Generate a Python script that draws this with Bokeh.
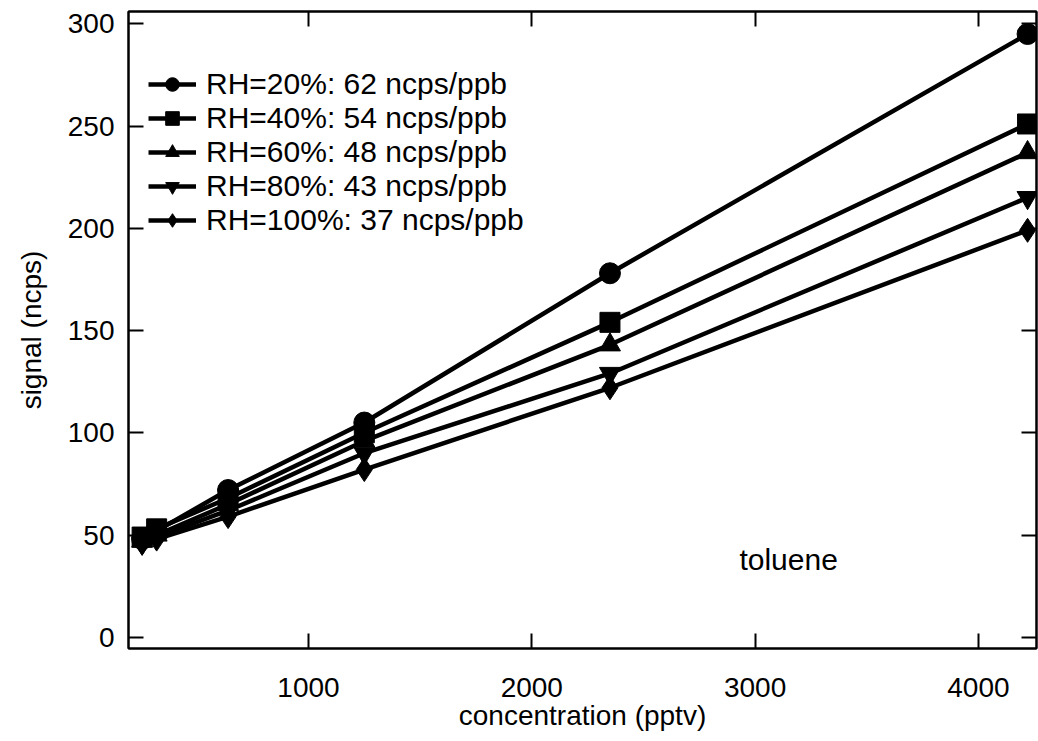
from bokeh.plotting import figure
from bokeh.models import LinearAxis, Range1d, FixedTicker, Legend, LegendItem, Label
from bokeh.embed import file_html
from bokeh.resources import INLINE

# concentration (pptv)
conc = [255, 320, 640, 1250, 2350, 4220]

rh20 = [48, 52, 72, 105, 178, 295]
rh40 = [49, 53, 68, 100, 154, 251]
rh60 = [47, 50, 65, 96, 143, 237]
rh80 = [46, 49, 62, 90, 129, 215]
rh100 = [46, 48, 59, 82, 122, 199]

labels = ["RH=20%: 62 ncps/ppb", "RH=40%: 54 ncps/ppb", "RH=60%: 48 ncps/ppb",
          "RH=80%: 43 ncps/ppb", "RH=100%: 37 ncps/ppb"]
markers = ["circle", "square", "triangle", "inverted_triangle", "diamond"]
sizes = [21, 20, 21, 21, 24]
series = [rh20, rh40, rh60, rh80, rh100]

x_ticks = [1000, 2000, 3000, 4000]
y_ticks = [0, 50, 100, 150, 200, 250, 300]

FONT = "Liberation Sans"

p = figure(frame_width=908, frame_height=637, output_backend="svg", toolbar_location=None,
           x_range=Range1d(194, 4260), y_range=Range1d(-5.5, 306),
           min_border_left=128, min_border_top=11, min_border_right=2, min_border_bottom=0,
           x_axis_label="concentration (pptv)", y_axis_label="signal (ncps)")
p.grid.visible = False
p.outline_line_color = "black"
p.outline_line_width = 2
p.background_fill_color = "white"
p.border_fill_color = "white"

p.xaxis.ticker = FixedTicker(ticks=x_ticks)
p.yaxis.ticker = FixedTicker(ticks=y_ticks)

for ax in [p.xaxis[0], p.yaxis[0]]:
    ax.axis_line_width = 2
    ax.major_tick_line_width = 2
    ax.major_tick_in = 15
    ax.major_tick_out = 0
    ax.minor_tick_line_color = None
    ax.major_label_text_font = FONT
    ax.major_label_text_font_size = "28px"
    ax.major_label_text_color = "black"
    ax.axis_label_text_font = FONT
    ax.axis_label_text_font_size = "28px"
    ax.axis_label_text_font_style = "normal"
    ax.axis_label_text_color = "black"

p.xaxis.major_label_standoff = 29
p.xaxis.axis_label_standoff = 0
p.yaxis.major_label_standoff = 14
p.yaxis.axis_label_standoff = 18

top = LinearAxis(ticker=FixedTicker(ticks=x_ticks))
right = LinearAxis(ticker=FixedTicker(ticks=y_ticks))
for ax in [top, right]:
    ax.axis_line_width = 2
    ax.major_tick_line_width = 2
    ax.major_tick_in = 15
    ax.major_tick_out = 0
    ax.minor_tick_line_color = None
    ax.major_label_text_font_size = "0px"
    ax.major_label_text_color = None
    ax.major_label_standoff = 0
p.add_layout(top, "above")
p.add_layout(right, "right")

items = []
for ys, lab, m, s in zip(series, labels, markers, sizes):
    r1 = p.line(conc, ys, line_color="black", line_width=4.5)
    r2 = p.scatter(conc, ys, marker=m, size=s, fill_color="black", line_color="black")
    items.append(LegendItem(label=lab, renderers=[r1, r2]))

glyph_h = 34
leg_h = 5 * glyph_h
legend = Legend(items=items, location=(20, 637 - 56 - leg_h),
                glyph_width=48, glyph_height=glyph_h, spacing=0, padding=0, margin=0,
                label_standoff=10, label_text_font=FONT, label_text_font_size="30px",
                label_text_color="black", border_line_color=None,
                background_fill_alpha=0)
p.add_layout(legend)

p.add_layout(Label(x=3150, y=38, text="toluene", text_align="center", text_baseline="middle",
                   text_font=FONT, text_font_size="30px", text_color="black"))

open("out.html", "w").write(file_html(p, INLINE))
